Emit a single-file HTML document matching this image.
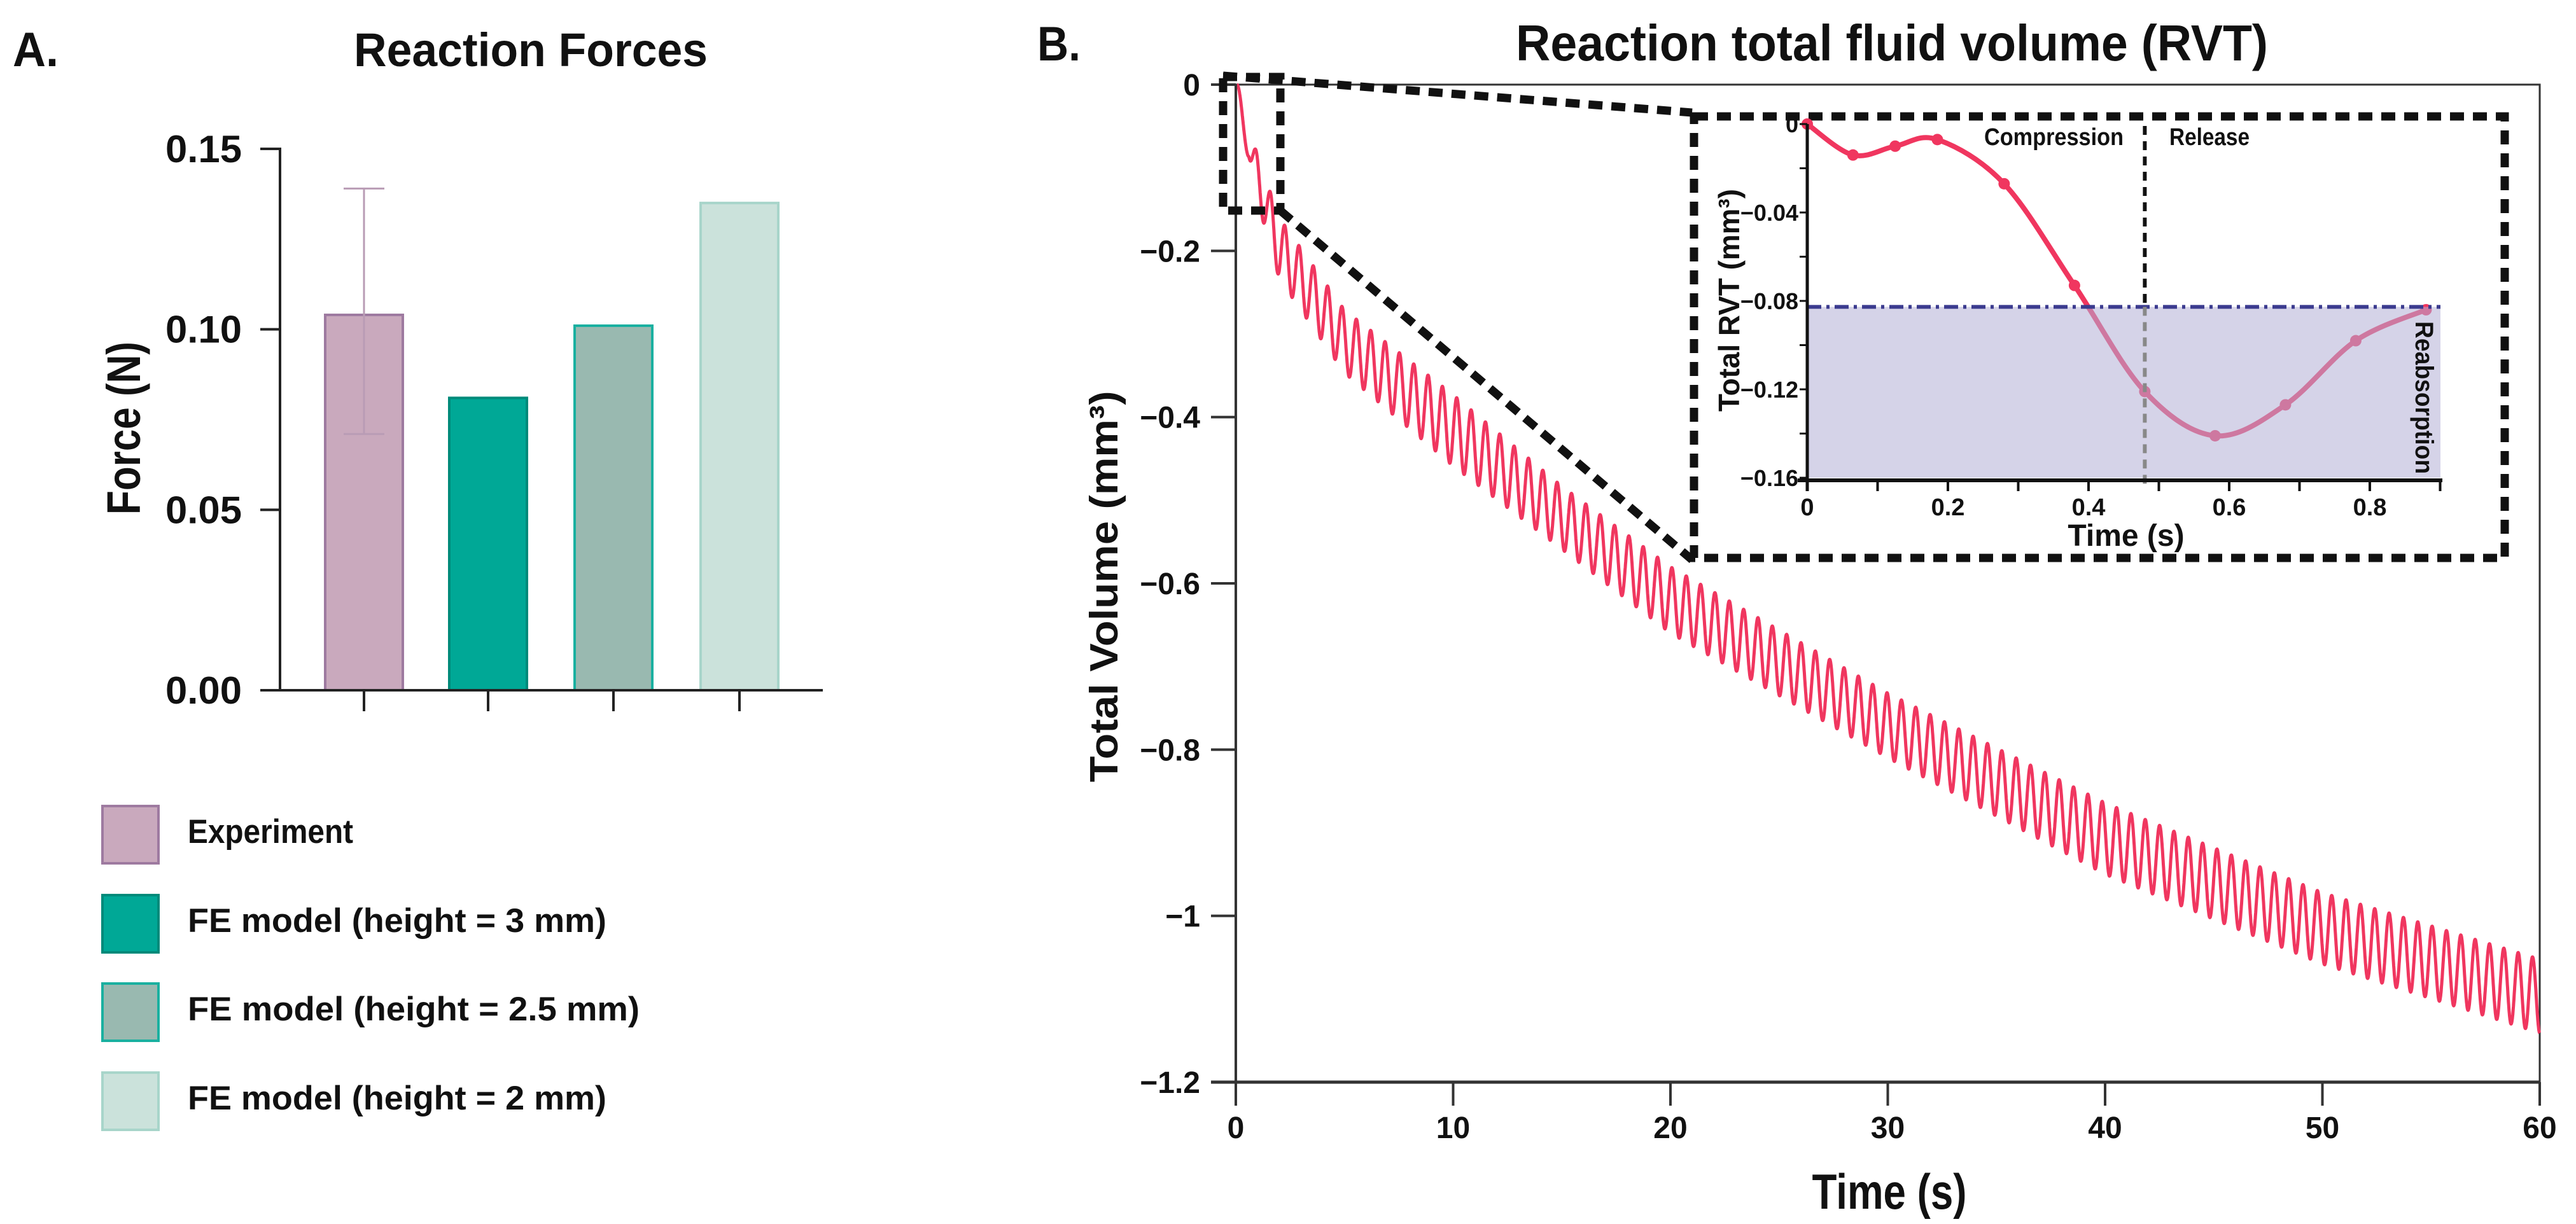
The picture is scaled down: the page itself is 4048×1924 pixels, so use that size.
<!DOCTYPE html>
<html><head><meta charset="utf-8"><style>
html,body{margin:0;padding:0;background:#fff;}
svg{display:block;}
text{font-family:"Liberation Sans Narrow","Liberation Sans",sans-serif;font-weight:bold;fill:#111;}
.w{font-family:"Liberation Sans",sans-serif;}
</style></head><body>
<svg id="fig" width="4048" height="1924" viewBox="0 0 4048 1924" xmlns="http://www.w3.org/2000/svg">
<rect x="0" y="0" width="4048" height="1924" fill="#fff"/>
<!-- Panel A -->
<text x="20" y="104" font-size="76" textLength="72" lengthAdjust="spacingAndGlyphs">A.</text>
<text x="556" y="104" font-size="74" textLength="556" lengthAdjust="spacingAndGlyphs">Reaction Forces</text>
<text transform="translate(220,673) rotate(-90)" text-anchor="middle" font-size="74" class="w" textLength="272" lengthAdjust="spacingAndGlyphs">Force (N)</text>
<g id="barChart"></g>
<g id="legend"></g>
<!-- Panel B -->
<text x="1630" y="95" font-size="76" textLength="68" lengthAdjust="spacingAndGlyphs">B.</text>
<text x="2382" y="95" font-size="80" textLength="1182" lengthAdjust="spacingAndGlyphs">Reaction total fluid volume (RVT)</text>
<text transform="translate(1756,922) rotate(-90)" text-anchor="middle" font-size="62" class="w" textLength="615" lengthAdjust="spacingAndGlyphs">Total Volume (mm³)</text>
<text x="2969" y="1900" text-anchor="middle" font-size="78" textLength="243" lengthAdjust="spacingAndGlyphs">Time (s)</text>
<g id="mainChart"></g>
<g id="inset"></g>
</svg>
<script>
// ---- Bar chart data ----
const barCategories = ["Experiment", "FE model (height = 3 mm)", "FE model (height = 2.5 mm)", "FE model (height = 2 mm)"];
const barValues = [0.104, 0.081, 0.101, 0.135];
const errLow = [0.071, null, null, null];
const errHigh = [0.139, null, null, null];
const barTicks = [0, 0.05, 0.10, 0.15];
const barTickLabels = ["0.00", "0.05", "0.10", "0.15"];
const barFills = ["#c9a9bd", "#00a896", "#99b9b0", "#cbe2db"];
const barStrokes = ["#9e7aa0", "#008a7a", "#1ab0a0", "#a8d5ca"];

// ---- Main chart data ----
const envTimes = [0, 1, 2, 5, 10, 15, 20, 30, 40, 50, 60];
const peakVals = [0, -0.085, -0.16, -0.271, -0.373, -0.483, -0.58, -0.732, -0.864, -0.972, -1.052];
const troughVals = [-0.005, -0.141, -0.234, -0.347, -0.459, -0.559, -0.66, -0.81, -0.95, -1.058, -1.141];
const cyclePeriod = [0.66];
const firstTrough = [0.6];
const mainXTicks = [0, 10, 20, 30, 40, 50, 60];
const mainXTickLabels = ["0", "10", "20", "30", "40", "50", "60"];
const mainYTicks = [0, -0.2, -0.4, -0.6, -0.8, -1, -1.2];
const mainYTickLabels = ["0", "\u22120.2", "\u22120.4", "\u22120.6", "\u22120.8", "\u22121", "\u22121.2"];

// ---- Inset data ----
const insetTimes = [0, 0.065, 0.125, 0.185, 0.28, 0.38, 0.48, 0.58, 0.68, 0.78, 0.88];
const insetVals = [0, -0.014, -0.010, -0.007, -0.027, -0.073, -0.121, -0.141, -0.127, -0.098, -0.084];
const insetXTicks = [0, 0.2, 0.4, 0.6, 0.8];
const insetXTickLabels = ["0", "0.2", "0.4", "0.6", "0.8"];
const insetYTicks = [0, -0.04, -0.08, -0.12, -0.16];
const insetYTickLabels = ["0", "\u22120.04", "\u22120.08", "\u22120.12", "\u22120.16"];
const reabsorptionLevel = [-0.0827];
const phaseSplit = [0.48];

const NS = "http://www.w3.org/2000/svg";
function mk(tag, attrs, parent, txt) {
  const e = document.createElementNS(NS, tag);
  for (const k in attrs) e.setAttribute(k, attrs[k]);
  if (txt !== undefined) e.textContent = txt;
  parent.appendChild(e);
  return e;
}

// ===== Bar chart =====
(function(){
  const g = document.getElementById('barChart');
  const y = v => 1085 - v / 0.15 * (1085 - 234);
  const xc = [572, 767, 964, 1162];
  const bw = 122;
  barTicks.forEach((t, i) => {
    const l = mk('line', {x1: 409, x2: 440, y1: y(t), y2: y(t), stroke: '#222', 'stroke-width': 4}, g);
    
    
    const tx = mk('text', {x: 380, y: y(t) + 21, 'text-anchor': 'end', 'font-size': 60, textLength: 120, lengthAdjust: 'spacingAndGlyphs'}, g, barTickLabels[i]);
    
    
  });
  barValues.forEach((v, i) => {
    const r = mk('rect', {x: xc[i] - bw / 2, y: y(v), width: bw, height: y(0) - y(v), fill: barFills[i], stroke: barStrokes[i], 'stroke-width': 4}, g);
    
    
    const tk = mk('line', {x1: xc[i], x2: xc[i], y1: y(0), y2: 1118, stroke: '#222', 'stroke-width': 4}, g);
    
    
    if (errLow[i] !== null) {
      const eg = mk('g', {stroke: '#b99cb5', 'stroke-width': 3}, g);
      
      
      mk('line', {x1: xc[i], x2: xc[i], y1: y(errHigh[i]), y2: y(errLow[i])}, eg);
      mk('line', {x1: xc[i] - 32, x2: xc[i] + 32, y1: y(errHigh[i]), y2: y(errHigh[i])}, eg);
      mk('line', {x1: xc[i] - 32, x2: xc[i] + 32, y1: y(errLow[i]), y2: y(errLow[i])}, eg);
    }
  });
  const ya = mk('line', {x1: 440, x2: 440, y1: 232, y2: 1087, stroke: '#222', 'stroke-width': 4}, g);
  
  
  const xa = mk('line', {x1: 409, x2: 1293, y1: 1085, y2: 1085, stroke: '#222', 'stroke-width': 4}, g);
  
  

  // legend
  const lg = document.getElementById('legend');
  const ys = [1265, 1405, 1544, 1684];
  const widths = [260, 658, 710, 658];
  barCategories.forEach((c, i) => {
    const e = mk('g', {}, lg);
    
    
    mk('rect', {x: 161, y: ys[i] + 2, width: 88, height: 90, fill: barFills[i], stroke: barStrokes[i], 'stroke-width': 4}, e);
    mk('text', {x: 295, y: ys[i] + 60, 'font-size': 53, textLength: widths[i], lengthAdjust: 'spacingAndGlyphs'}, e, c);
  });
})();

// ===== Main chart =====
(function(){
  const g = document.getElementById('mainChart');
  const X0 = 1942, X1 = 3991, Y0 = 133, Y1 = 1701;
  const x = t => X0 + t / 60 * (X1 - X0);
  const y = v => Y0 + (-v) / 1.2 * (Y1 - Y0);
  function envAt(arr, t) {
    for (let i = 0; i < envTimes.length - 1; i++) {
      if (t <= envTimes[i + 1]) {
        const f = (t - envTimes[i]) / (envTimes[i + 1] - envTimes[i]);
        return arr[i] + f * (arr[i + 1] - arr[i]);
      }
    }
    return arr[arr.length - 1];
  }
  const fr = mk('path', {d: `M${X0},${Y0} L${X1},${Y0} L${X1},${Y1}`, fill: 'none', stroke: '#333', 'stroke-width': 3}, g);
  
  
  let d = '';
  const P = cyclePeriod[0], T0 = firstTrough[0];
  const tStart = 0.05;
  const firstLow = envAt(troughVals, T0);
  for (let t = tStart; t <= 60.0001; t += 0.01) {
    let v;
    if (t < T0) {
      v = firstLow * (1 - Math.cos(Math.PI * (t - tStart) / (T0 - tStart))) / 2;
    } else {
      const hi = envAt(peakVals, t), lo = envAt(troughVals, t);
      v = (hi + lo) / 2 - (hi - lo) / 2 * Math.cos(2 * Math.PI * (t - T0) / P);
    }
    d += (d ? 'L' : 'M') + x(t).toFixed(1) + ',' + y(v).toFixed(1);
  }
  const s = mk('path', {d: d, fill: 'none', stroke: '#f0365f', 'stroke-width': 5, 'stroke-linejoin': 'round'}, g);
  
  
  const ya = mk('line', {x1: X0, x2: X0, y1: Y0, y2: Y1 + 37, stroke: '#333', 'stroke-width': 4}, g);
  
  
  const xa = mk('line', {x1: 1903, x2: X1, y1: Y1, y2: Y1, stroke: '#333', 'stroke-width': 5}, g);
  
  
  mainXTicks.forEach((t, i) => {
    const l = mk('line', {x1: x(t), x2: x(t), y1: Y1, y2: Y1 + 37, stroke: '#333', 'stroke-width': 4}, g);
    
    
    const tx = mk('text', {x: x(t), y: 1789, 'text-anchor': 'middle', 'font-size': 48}, g, mainXTickLabels[i]);
    
    
  });
  mainYTicks.forEach((t, i) => {
    const l = mk('line', {x1: 1903, x2: X0, y1: y(t), y2: y(t), stroke: '#333', 'stroke-width': 4}, g);
    
    
    const tx = mk('text', {x: 1886, y: y(t) + 17, 'text-anchor': 'end', 'font-size': 48}, g, mainYTickLabels[i]);
    
    
  });
  const zb = mk('g', {fill: 'none', stroke: '#111', 'stroke-width': 13, 'stroke-dasharray': '22 14'}, g);
  
  
  mk('rect', {x: 1922, y: 121, width: 90, height: 210}, zb);
  mk('line', {x1: 1922, y1: 119, x2: 2659, y2: 177}, zb);
  mk('line', {x1: 2012, y1: 331, x2: 2659, y2: 880}, zb);
})();

// ===== Inset =====
(function(){
  const g = document.getElementById('inset');
  const X0 = 2840, Y0 = 195, Y1 = 751;
  const x = t => X0 + t / 0.2 * 221;
  const y = v => Y0 + (-v) / 0.16 * (Y1 - Y0);
  const box = mk('rect', {x: 2662, y: 183, width: 1274, height: 694, fill: '#fff', stroke: '#111', 'stroke-width': 13, 'stroke-dasharray': '22 14'}, g);
  
  
  let d = '';
  insetTimes.forEach((t, i) => {
    if (i === 0) { d += `M${x(t)},${y(insetVals[i])}`; return; }
    const t0 = insetTimes[Math.max(0, i - 2)], v0 = insetVals[Math.max(0, i - 2)];
    const t1 = insetTimes[i - 1], v1 = insetVals[i - 1];
    const t3 = insetTimes[Math.min(insetTimes.length - 1, i + 1)], v3 = insetVals[Math.min(insetTimes.length - 1, i + 1)];
    const c1x = x(t1) + (x(t) - x(t0)) / 6, c1y = y(v1) + (y(insetVals[i]) - y(v0)) / 6;
    const c2x = x(t) - (x(t3) - x(t1)) / 6, c2y = y(insetVals[i]) - (y(v3) - y(v1)) / 6;
    d += ` C${c1x},${c1y} ${c2x},${c2y} ${x(t)},${y(insetVals[i])}`;
  });
  const c = mk('path', {d: d, fill: 'none', stroke: '#f0365f', 'stroke-width': 8}, g);
  
  
  insetTimes.forEach((t, i) => {
    const p = mk('circle', {cx: x(t), cy: y(insetVals[i]), r: 9, fill: '#f0365f'}, g);
    
    
  });
  const sh = mk('rect', {x: X0, y: y(reabsorptionLevel[0]), width: 995, height: Y1 - y(reabsorptionLevel[0]), fill: '#b3afd5', 'fill-opacity': 0.55}, g);
  
  
  const rl = mk('line', {x1: X0, x2: 3835, y1: y(reabsorptionLevel[0]), y2: y(reabsorptionLevel[0]), stroke: '#3b3b8f', 'stroke-width': 6, 'stroke-dasharray': '22 8 5 8'}, g);
  
  
  const vx = x(phaseSplit[0]);
  const v1 = mk('line', {x1: vx, x2: vx, y1: 198, y2: y(reabsorptionLevel[0]), stroke: '#111', 'stroke-width': 6, 'stroke-dasharray': '14 10'}, g);
  
  
  const v2 = mk('line', {x1: vx, x2: vx, y1: y(reabsorptionLevel[0]), y2: 762, stroke: '#888', 'stroke-width': 6, 'stroke-dasharray': '14 10'}, g);
  
  
  const ya = mk('line', {x1: X0, x2: X0, y1: 195, y2: 772, stroke: '#111', 'stroke-width': 5}, g);
  
  
  const xa = mk('line', {x1: 2825, x2: 3838, y1: 755, y2: 755, stroke: '#111', 'stroke-width': 6}, g);
  
  
  for (let k = 0; k <= 9; k++) {
    const l = mk('line', {x1: x(k * 0.1), x2: x(k * 0.1), y1: 755, y2: 772, stroke: '#111', 'stroke-width': 4}, g);
    
    
  }
  insetXTicks.forEach((t, i) => {
    const tx = mk('text', {x: x(t), y: 810, 'text-anchor': 'middle', 'font-size': 38}, g, insetXTickLabels[i]);
    
    
  });
  for (let k = 0; k <= 8; k++) {
    const l = mk('line', {x1: 2828, x2: X0, y1: y(-k * 0.02), y2: y(-k * 0.02), stroke: '#111', 'stroke-width': 3}, g);
    
    
  }
  insetYTicks.forEach((t, i) => {
    const tx = mk('text', {x: 2826, y: y(t) + 13, 'text-anchor': 'end', 'font-size': 36}, g, insetYTickLabels[i]);
    
    
  });
  const xt = mk('text', {x: 3341, y: 858, 'text-anchor': 'middle', 'font-size': 48}, g, 'Time (s)');
  
  
  const yt = mk('text', {transform: 'translate(2733,472) rotate(-90)', 'text-anchor': 'middle', 'font-size': 46, class: 'w', textLength: 350, lengthAdjust: 'spacingAndGlyphs'}, g, 'Total RVT (mm³)');
  
  
  const cp = mk('text', {x: 3118, y: 228, 'font-size': 38, textLength: 219, lengthAdjust: 'spacingAndGlyphs'}, g, 'Compression');
  
  
  const rel = mk('text', {x: 3409, y: 228, 'font-size': 38, textLength: 126, lengthAdjust: 'spacingAndGlyphs'}, g, 'Release');
  
  
  const ra = mk('text', {transform: 'translate(3796,505) rotate(90)', 'font-size': 40, class: 'w', textLength: 240, lengthAdjust: 'spacingAndGlyphs'}, g, 'Reabsorption');
  
  
})();
</script>
</body></html>
